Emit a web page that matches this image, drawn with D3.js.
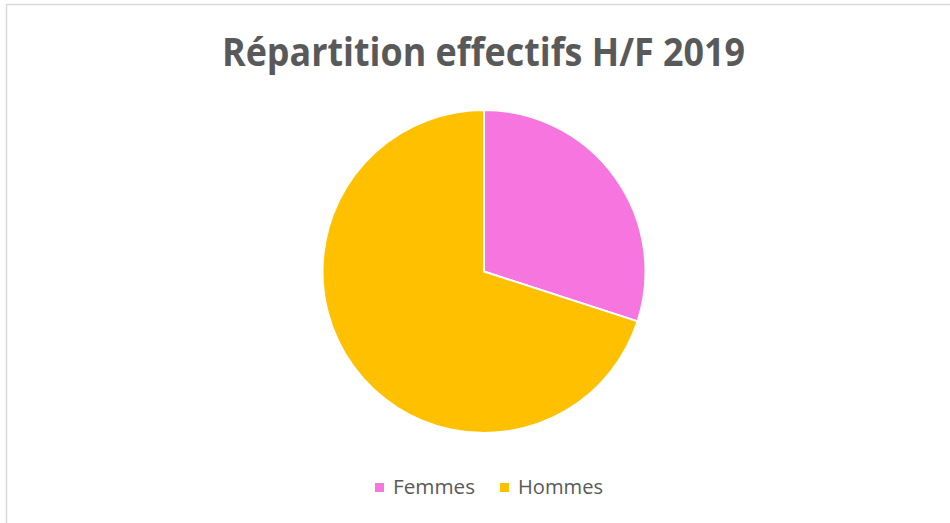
<!DOCTYPE html>
<html>
<head>
<meta charset="utf-8">
<script src="https://cdn.jsdelivr.net/npm/d3@7"></script>
<style>
  body { margin: 0; background: #fff; }
  svg { display: block; }
</style>
</head>
<body>
<div id="chart"></div>
<script>
const WIDTH = 950
const HEIGHT = 523
const TEXT_GREY = '#595959'

const categories = ['Femmes', 'Hommes']
const values = [30, 70]
const colours = ['#F675DF', '#FFC000']
const title = 'Répartition effectifs H/F 2019'

const svg = d3.select('#chart').append('svg')
  .attr('width', WIDTH)
  .attr('height', HEIGHT)

// chart area border (runs off the right and bottom of the picture)
svg.append('rect')
  .attr('x', 6.5)
  .attr('y', 4.5)
  .attr('width', WIDTH + 20)
  .attr('height', HEIGHT + 20)
  .attr('fill', 'none')
  .attr('stroke', '#d9d9d9')
  .attr('stroke-width', 1.5)

svg.append('text')
  .attr('x', 483.5)
  .attr('y', 66)
  .attr('text-anchor', 'middle')
  .attr('font-family', '"Open Sans", sans-serif')
  .attr('font-weight', 'bold')
  .attr('font-size', '40px')
  .attr('fill', TEXT_GREY)
  .attr('textLength', 523)
  .attr('lengthAdjust', 'spacingAndGlyphs')
  .text(title)

const color = d3.scaleOrdinal().domain(categories).range(colours)

const pie = d3.pie().sort(null).value(d => d.value)
const arc = d3.arc().innerRadius(0).outerRadius(161.5)

const data = categories.map((c, i) => ({name: c, value: values[i]}))

const pieGroup = svg.append('g')
  .attr('transform', 'translate(484, 271.5)')

pieGroup.selectAll('path')
  .data(pie(data))
  .enter()
  .append('path')
  .attr('d', arc)
  .attr('fill', d => color(d.data.name))
  .attr('stroke', '#fff')
  .attr('stroke-width', 2)

// legend
const legendX = d3.scaleOrdinal().domain(categories).range([375, 500])

const legend = svg.append('g')
  .selectAll('g')
  .data(categories)
  .enter()
  .append('g')
  .attr('transform', d => `translate(${legendX(d)}, 483)`)

legend.append('rect')
  .attr('width', 9)
  .attr('height', 9)
  .attr('fill', d => color(d))

legend.append('text')
  .attr('x', 18)
  .attr('y', 11)
  .attr('font-family', '"Open Sans", sans-serif')
  .attr('font-size', '20px')
  .attr('fill', TEXT_GREY)
  .attr('textLength', (d, i) => i === 0 ? 82 : 85)
  .attr('lengthAdjust', 'spacingAndGlyphs')
  .text(d => d)
</script>
</body>
</html>
